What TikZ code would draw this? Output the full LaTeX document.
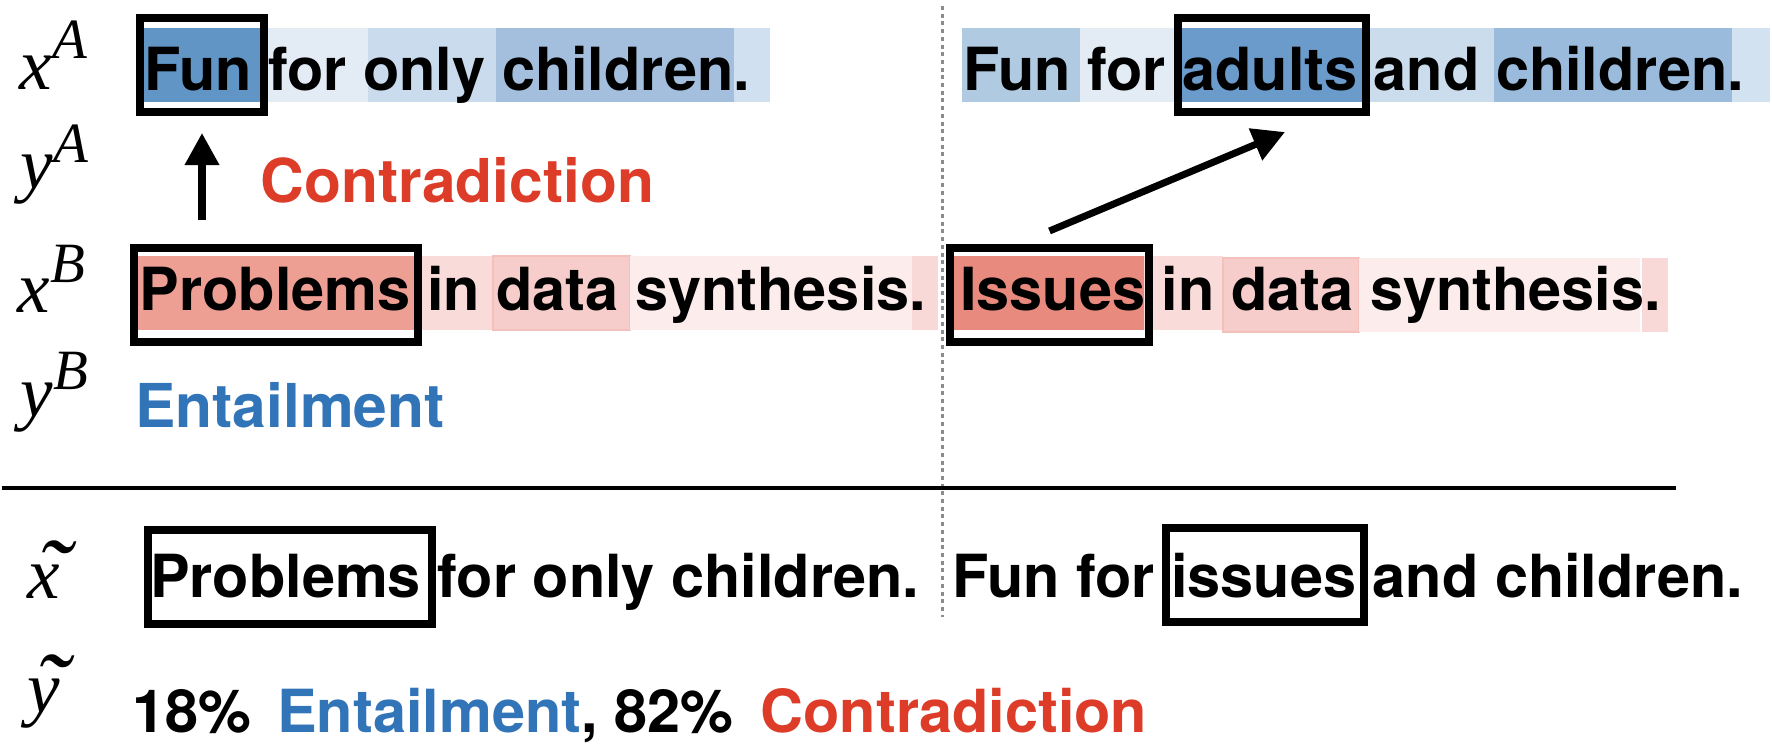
\documentclass[tikz,border=0pt]{standalone}
\usepackage{fontspec}
\setmainfont{TeX Gyre Heros}
\newfontfamily\lserif{Liberation Serif}
\usetikzlibrary{arrows.meta,calc}
\definecolor{conred}{HTML}{DC3C28}
\definecolor{entblue}{HTML}{3274B8}
\definecolor{bA1}{HTML}{6095C6}
\definecolor{bA2}{HTML}{E3EBF5}
\definecolor{bA3}{HTML}{C9DBEC}
\definecolor{bA4}{HTML}{A3BFDD}
\definecolor{bA5}{HTML}{D0E0F0}
\definecolor{bB1}{HTML}{B0CAE2}
\definecolor{bB3}{HTML}{6B9BCB}
\definecolor{bB4}{HTML}{CBDCEC}
\definecolor{bB5}{HTML}{9ABBDB}
\definecolor{bB6}{HTML}{D2E2F1}
\definecolor{rA1}{HTML}{EE9F94}
\definecolor{rA2}{HTML}{F9DBD9}
\definecolor{rA3}{HTML}{F6CDCA}
\definecolor{rA4}{HTML}{FCECEC}
\definecolor{rA5}{HTML}{F8D9D7}
\definecolor{rB1}{HTML}{E98A7E}
\definecolor{redge}{HTML}{F3C0BB}
\definecolor{dotgray}{HTML}{8C8C8C}
\begin{document}
\begin{tikzpicture}[x=0.01cm,y=-0.01cm,
  txt/.style={anchor=base west, inner sep=0pt, font=\fontsize{16.9pt}{20pt}\selectfont\bfseries},
  big/.style={txt, font=\fontsize{17.2pt}{20pt}\selectfont\bfseries},
  lab/.style={anchor=base west, inner sep=0pt, font=\lserif\itshape\fontsize{20.8pt}{24pt}\selectfont},
  frame/.style={draw=black, line width=0.08cm, inner sep=0pt, minimum height=0.94cm},
  arr/.style={-{Triangle[width=0.33cm,length=0.32cm]}, line width=0.07cm},
  dedge/.style={draw=redge, line width=0.3pt}]
\useasboundingbox (0,0) rectangle (1772,754);

% ---- highlights row A (left)
\fill[bA1] (144,28) rectangle (260,102);
\fill[bA2] (260,28) rectangle (368,102);
\fill[bA3] (368,28) rectangle (496,102);
\fill[bA4] (496,28) rectangle (734,102);
\fill[bA5] (734,28) rectangle (770,102);
% ---- highlights row A (right)
\fill[bB1] (962,28) rectangle (1080,102);
\fill[bA2] (1080,28) rectangle (1182,102);
\fill[bB3] (1182,28) rectangle (1362,102);
\fill[bB4] (1362,28) rectangle (1494,102);
\fill[bB5] (1494,28) rectangle (1732,102);
\fill[bB6] (1732,28) rectangle (1770,102);
% ---- highlights row B (left)
\fill[rA1] (138,256) rectangle (414,330);
\fill[rA2] (414,256) rectangle (493,330);
\filldraw[fill=rA3,dedge] (493,256) rectangle (630,330);
\fill[rA4] (630,256) rectangle (912,330);
\fill[rA5] (912,256) rectangle (938,330);
% ---- highlights row B (right)
\fill[rB1] (954,256) rectangle (1144,330);
\fill[rA2] (1144,256) rectangle (1223,330);
\filldraw[fill=rA3,dedge] (1223,258) rectangle (1359,332);
\fill[rA4] (1359,258) rectangle (1640,332);
\fill[rA5] (1642,258) rectangle (1668,332);

% ---- separators
\draw[dotgray, line width=0.03cm, dash pattern=on 0.04cm off 0.037cm] (942,6) -- (942,617);
\draw[line width=0.04cm] (2,488) -- (1676,488);

% ---- row labels
\node[lab] (xA) at (19,89) {x\raisebox{0.30cm}{\fontsize{16.2pt}{18pt}\selectfont A}};
\node[lab] (yA) at (20,188) {y\raisebox{0.25cm}{\fontsize{16.2pt}{18pt}\selectfont A}};
\node[lab] (xB) at (17,312) {x\raisebox{0.29cm}{\fontsize{16.2pt}{18pt}\selectfont B}};
\node[lab] (yB) at (20,416) {y\raisebox{0.26cm}{\fontsize{16.2pt}{18pt}\selectfont B}};
\node[lab] (xt) at (27,598) {\makebox[0pt][l]{\hspace{0.085cm}\raisebox{-0.11cm}{\fontsize{29pt}{29pt}\selectfont ˜}}x};
\node[lab] (yt) at (27,712) {\makebox[0pt][l]{\hspace{0.07cm}\raisebox{-0.11cm}{\fontsize{29pt}{29pt}\selectfont ˜}}y};

% ---- sentences
\node[txt] (sA1) at (143.5,90) {Fun for only children.};
\node[txt] (sA2) at (962.5,90) {Fun for adults and children.};
\node[big, text=conred] (lA) at (260,202) {Contradiction};
\node[txt] (sB1) at (139,310) {Problems in data synthesis.};
\node[txt] (sB2) at (959.5,310) {Issues in data synthesis.};
\node[big, text=entblue] (lB) at (134.5,427) {Entailment};
\node[txt] (m1) at (149.5,597) {Problems for only children.};
\node[txt] (m2) at (951.5,597) {Fun for issues and children.};
\node[txt] (p18) at (132,732) {18\%};
\node[txt] (pent) at (276.5,732) {\textcolor{entblue}{Entailment},};
\node[txt] (p82) at (614,732) {82\%};
\node[txt, text=conred] (pcon) at (760,732) {Contradiction};

% ---- frames
\node[frame, minimum width=1.24cm] (fun) at (202,65) {};
\node[frame, minimum width=1.88cm] (adu) at (1272,65) {};
\node[frame, minimum width=2.84cm] (prob) at (276,295) {};
\node[frame, minimum width=1.99cm] (iss) at (1049.5,295) {};
\node[frame, minimum width=2.84cm] (mprob) at (290,577) {};
\node[frame, minimum width=1.98cm] (miss) at (1265,575) {};

% ---- arrows
\draw[arr, shorten <=0.24cm, shorten >=0.17cm] (fun.south |- prob.north) -- (fun.south);
\draw[arr] ($(iss.north)+(0,-13)$) -- ($(adu.south)+(13,16)$);
\end{tikzpicture}
\end{document}
